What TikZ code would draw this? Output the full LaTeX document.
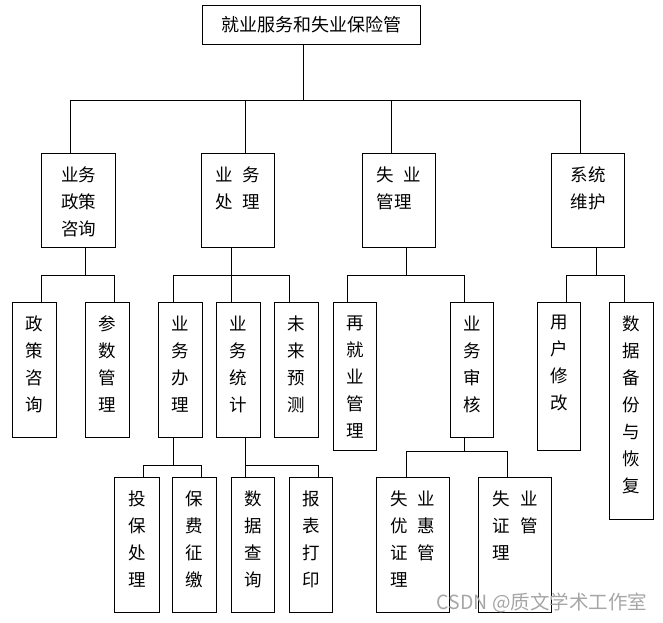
\documentclass[tikz,border=0pt]{standalone}
\usepackage{fontspec}
\newfontfamily\cjk{Noto Sans CJK SC}

\begin{document}
\begin{tikzpicture}[x=1pt, y=-1pt, line width=1pt,
  box/.style={draw, inner sep=0pt, anchor=north west},
  txt/.style={anchor=north, yshift=-13pt, inner sep=0pt, align=center,
    font=\cjk\fontsize{17.5}{27}\selectfont}]
  \useasboundingbox (0,0) rectangle (663,622);
  \node[box, minimum width=218, minimum height=39,
    font=\cjk\fontsize{18}{18}\selectfont] (root) at (202,5) {就业服务和失业保险管};

  \node[box, minimum width=74, minimum height=94, label={[txt]90:业务\\政策\\咨询}] (zc) at (41,153) {};
  \node[box, minimum width=73, minimum height=94, label={[txt]90:业\hspace{10pt}务\\处\hspace{10pt}理}] (cl) at (201,153) {};
  \node[box, minimum width=73, minimum height=94, label={[txt, align=left]90:失\hspace{10pt}业\\管理}] (sy) at (362,153) {};
  \node[box, minimum width=73, minimum height=94, label={[txt]90:系统\\维护}] (xt) at (551,153) {};

  \node[box, minimum width=44, minimum height=135, label={[txt]90:政\\策\\咨\\询}] (zczx) at (12,302) {};
  \node[box, minimum width=44, minimum height=135, label={[txt]90:参\\数\\管\\理}] (csgl) at (85,302) {};
  \node[box, minimum width=44, minimum height=135, label={[txt]90:业\\务\\办\\理}] (ywbl) at (158,302) {};
  \node[box, minimum width=44, minimum height=135, label={[txt]90:业\\务\\统\\计}] (ywtj) at (216,302) {};
  \node[box, minimum width=44, minimum height=135, label={[txt]90:未\\来\\预\\测}] (wlyc) at (274,302) {};
  \node[box, minimum width=43, minimum height=148, label={[txt]90:再\\就\\业\\管\\理}] (zjy) at (333,302) {};
  \node[box, minimum width=43, minimum height=135, label={[txt]90:业\\务\\审\\核}] (ywsh) at (450,302) {};
  \node[box, minimum width=43, minimum height=148, label={[txt]90:用\\户\\修\\改}] (yhxg) at (537,302) {};
  \node[box, minimum width=44, minimum height=217, label={[txt]90:数\\据\\备\\份\\与\\恢\\复}] (sjbf) at (609,302) {};

  \node[box, minimum width=45, minimum height=135, label={[txt]90:投\\保\\处\\理}] (tbcl) at (114,477) {};
  \node[box, minimum width=44, minimum height=135, label={[txt]90:保\\费\\征\\缴}] (bfzj) at (172,477) {};
  \node[box, minimum width=43, minimum height=135, label={[txt]90:数\\据\\查\\询}] (sjcx) at (231,477) {};
  \node[box, minimum width=43, minimum height=135, label={[txt]90:报\\表\\打\\印}] (bbdy) at (289,477) {};
  \node[box, minimum width=73, minimum height=135, label={[txt, align=left]90:失\hspace{10pt}业\\优\hspace{10pt}惠\\证\hspace{10pt}管\\理}] (yhz) at (376,477) {};
  \node[box, minimum width=73, minimum height=135, label={[txt, align=left]90:失\hspace{10pt}业\\证\hspace{10pt}管\\理}] (syz) at (478,477) {};

  \draw ([xshift=-8]root.south) -- ++(0,55) -| ([xshift=-8]zc.north)
        ([xshift=-8]root.south) -- ++(0,55) -| ([xshift=7.5]cl.north)
        ([xshift=-8]root.south) -- ++(0,55) -| ([xshift=-7.5]sy.north)
        ([xshift=-8]root.south) -- ++(0,55) -| ([xshift=-7.5]xt.north);
  \draw ([xshift=7]zc.south) -- ++(0,27) -| ([xshift=7]zczx.north)
        ([xshift=7]zc.south) -- ++(0,27) -| ([xshift=7]csgl.north);
  \draw ([xshift=-6.5]cl.south) -- ++(0,27) -| ([xshift=-7]ywbl.north)
        ([xshift=-6.5]cl.south) -- ++(0,27) -| ([xshift=-7]ywtj.north)
        ([xshift=-6.5]cl.south) -- ++(0,27) -| ([xshift=-7]wlyc.north);
  \draw ([xshift=7.5]sy.south) -- ++(0,27) -| ([xshift=-7.5]zjy.north)
        ([xshift=7.5]sy.south) -- ++(0,27) -| ([xshift=-7.5]ywsh.north);
  \draw ([xshift=8.5]xt.south) -- ++(0,27) -| ([xshift=7.5]yhxg.north)
        ([xshift=8.5]xt.south) -- ++(0,27) -| ([xshift=-7]sjbf.north);
  \draw ([xshift=-7.5]ywbl.south) -- ++(0,27) -| ([xshift=6.5]tbcl.north)
        ([xshift=-7.5]ywbl.south) -- ++(0,27) -| ([xshift=7]bfzj.north);
  \draw ([xshift=7]ywtj.south) -- ++(0,27) -| ([xshift=-7.5]sjcx.north)
        ([xshift=7]ywtj.south) -- ++(0,27) -| ([xshift=7.5]bbdy.north);
  \draw ([xshift=-7.5]ywsh.south) -- ++(0,13) -| ([xshift=-6.5]yhz.north)
        ([xshift=-7.5]ywsh.south) -- ++(0,13) -| ([xshift=-7.5]syz.north);

  \node[font=\cjk\fontsize{19.5}{19.5}\selectfont, text=black!35] (wm) at (542,603) {CSDN @质文学术工作室};
\end{tikzpicture}
\end{document}
